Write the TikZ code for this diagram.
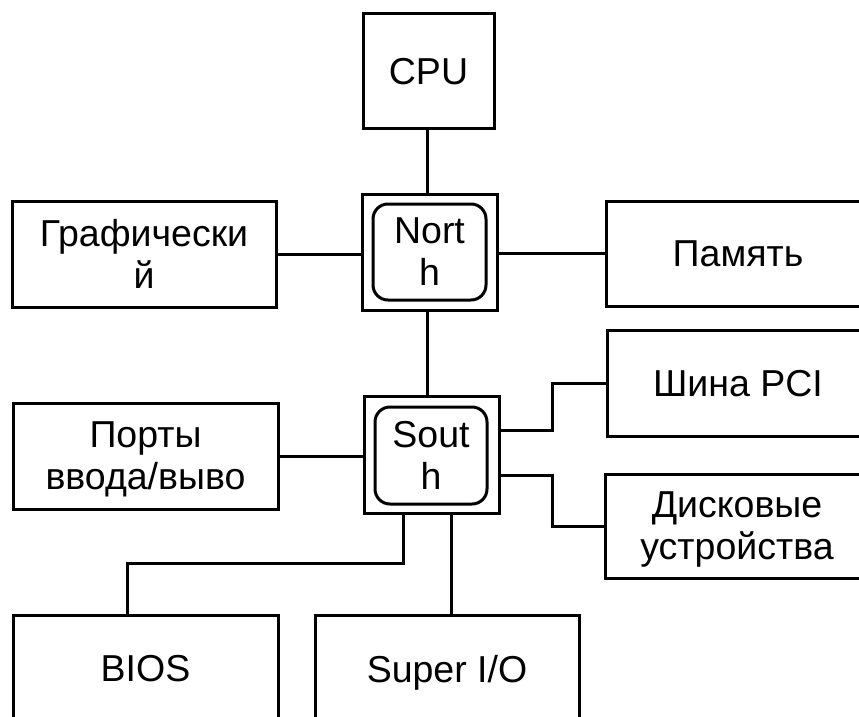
\documentclass[tikz,border=0pt]{standalone}
\usepackage{fontspec}
\setmainfont{Liberation Sans}
\begin{document}
\begin{tikzpicture}[x=1pt,y=-1pt]
\tikzset{
  box/.style={draw, line width=3pt, rectangle, inner sep=0pt, outer sep=0pt,
    anchor=north west, align=center, text depth=0pt,
    font=\fontsize{37.5}{42}\selectfont},
  hub/.style={box, rounded corners=15pt},
  wire/.style={line width=3pt},
}
\clip (0,0) rectangle (859,717);
\fill[white] (0,0) rectangle (859,717);
% boxes
\node[box, minimum width=131pt, minimum height=114pt] (cpu) at (363,14) {CPU};
\node[box, minimum width=264pt, minimum height=106pt] (graph) at (12,201) {Графически\\й};
\node[box, minimum width=264pt, minimum height=105pt] (mem) at (606,201) {Память};
\node[box, minimum width=135pt, minimum height=116pt] (nout) at (362,194) {};
\node[hub, minimum width=113pt, minimum height=96pt] (nin) at (373,204) {Nort\\h};
\node[box, minimum width=265pt, minimum height=106pt] (ports) at (13,403) {Порты\\ввода/выво};
\node[box, minimum width=135pt, minimum height=117pt] (sout) at (364,396) {};
\node[hub, minimum width=112pt, minimum height=97pt] (sin) at (375,407) {Sout\\h};
\node[box, minimum width=262pt, minimum height=106pt] (pci) at (607,330) {Шина PCI};
\node[box, minimum width=264pt, minimum height=104pt] (disk) at (605,474) {Дисковые\\устройства};
\node[box, minimum width=265pt, minimum height=107pt] (bios) at (13,615) {BIOS};
\node[box, minimum width=264pt, minimum height=107pt] (super) at (315,615) {Super I/O};
% connectors
\coordinate (cx) at (427,0);
\draw[wire] (cx |- cpu.south) -- (cx |- nout.north);
\draw[wire] (cx |- nout.south) -- (cx |- sout.north);
\draw[wire] (graph.east) -- (graph.east -| nout.west);
\draw[wire] (nout.east |- mem.west) -- (mem.west);
\draw[wire] (ports.east) -- (ports.east -| sout.west);
\coordinate (pa) at (552,430);
\coordinate (da) at (552,475);
\draw[wire] (sout.east |- pa) -- (pa) |- (pci.west);
\draw[wire] (sout.east |- da) -- (da) |- (disk.west);
\coordinate (ba) at (403,563);
\coordinate (bb) at (127,563);
\draw[wire] (ba |- sout.south) -- (ba) -- (bb) -- (bb |- bios.north);
\coordinate (sa) at (451,0);
\draw[wire] (sa |- sout.south) -- (sa |- super.north);
\end{tikzpicture}
\end{document}
